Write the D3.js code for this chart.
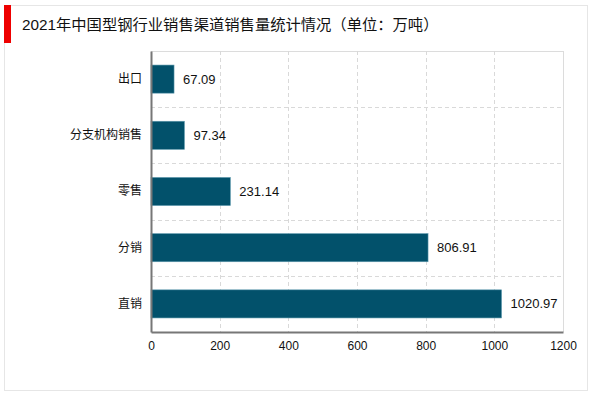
<!DOCTYPE html>
<html><head><meta charset="utf-8">
<script src="https://cdn.jsdelivr.net/npm/d3@7"></script>
<style>body{margin:0;background:#fff;}svg{display:block;font-family:"Liberation Sans","Noto Sans CJK SC",Arial,sans-serif;}</style>
</head><body>
<svg id="c" width="600" height="393"></svg>
<script>
const titleText = "2021年中国型钢行业销售渠道销售量统计情况（单位：万吨）";
const categories = ["出口","分支机构销售","零售","分销","直销"];
const values = [67.09, 97.34, 231.14, 806.91, 1020.97];
const xTicks = [0,200,400,600,800,1000,1200];

const svg = d3.select("#c");
svg.append("rect").attr("x",4.5).attr("y",5.5).attr("width",583).attr("height",385)
  .attr("fill","none").attr("stroke","#e6e6e6");
svg.append("rect").attr("x",4).attr("y",5).attr("width",7).attr("height",38).attr("fill","#ee0000");
svg.append("text").attr("x",22).attr("y",30).attr("font-size",15.3).attr("fill","#111")
  .text(titleText);

const m = {l:151, r:563, t:51, b:332};
const x = d3.scaleLinear().domain([0,1200]).range([m.l,m.r]);
const y = d3.scaleBand().domain(categories).range([m.t,m.b]).paddingInner(0).paddingOuter(0);

const g = svg.append("g");
g.append("line").attr("x1",m.l).attr("x2",m.r).attr("y1",m.t+0.5).attr("y2",m.t+0.5).attr("stroke","#dcdcdc");
g.append("line").attr("x1",m.r+0.5).attr("x2",m.r+0.5).attr("y1",m.t).attr("y2",m.b).attr("stroke","#dcdcdc");
g.selectAll(".vg").data(xTicks.slice(1,-1)).enter().append("line")
  .attr("x1",d=>Math.round(x(d))+0.5).attr("x2",d=>Math.round(x(d))+0.5)
  .attr("y1",m.t).attr("y2",m.b).attr("stroke","#d9d9d9").attr("stroke-dasharray","4,3");
g.selectAll(".hg").data(categories.slice(1)).enter().append("line")
  .attr("x1",m.l).attr("x2",m.r)
  .attr("y1",d=>Math.round(y(d))+0.5).attr("y2",d=>Math.round(y(d))+0.5)
  .attr("stroke","#d9d9d9").attr("stroke-dasharray","4,3");

const bh = y.bandwidth()*0.5;
g.selectAll(".bar").data(values).enter().append("rect")
  .attr("x",x(0)).attr("y",(d,i)=>y(categories[i])+y.bandwidth()/2-bh/2)
  .attr("width",d=>x(d)-x(0)).attr("height",bh)
  .attr("fill","#02516b").attr("stroke","#5d98ad").attr("stroke-width",0.6);
g.selectAll(".vl").data(values).enter().append("text")
  .attr("x",d=>x(d)+9).attr("y",(d,i)=>y(categories[i])+y.bandwidth()/2+4.5)
  .attr("font-size",13).attr("fill","#111").text(d=>d.toFixed(2));

const xAxis = d3.axisBottom(x).tickValues(xTicks).tickFormat(d3.format("d")).tickSize(0).tickPadding(9);
const ax = svg.append("g").attr("transform",`translate(0,${m.b})`).call(xAxis);
ax.select(".domain").attr("stroke","#777").attr("stroke-width",2);
ax.selectAll("text").attr("font-size",12).attr("fill","#111").attr("font-family","Liberation Sans, Arial, sans-serif");

const yAxis = d3.axisLeft(y).tickSize(0).tickPadding(9);
const ay = svg.append("g").attr("transform",`translate(${m.l},0)`).call(yAxis);
ay.select(".domain").attr("stroke","#777").attr("stroke-width",2);
ay.selectAll("text").attr("font-size",12).attr("fill","#111").attr("font-family","Noto Sans CJK SC, sans-serif");
</script>
</body></html>
